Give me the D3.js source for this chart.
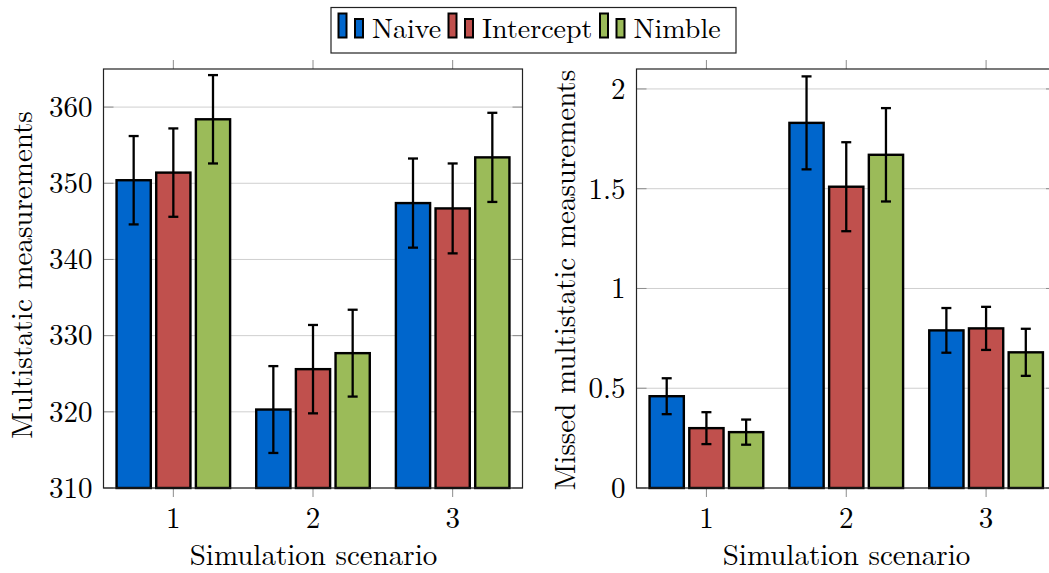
<!DOCTYPE html>
<html>
<head>
<meta charset="utf-8">
<script src="https://cdn.jsdelivr.net/npm/d3@7"></script>
<style>
  body { margin: 0; background: #fff; }
</style>
</head>
<body>
<svg id="chart" width="1049" height="573"></svg>
<script>
// Categories (simulation scenarios) and series names
const scenarios = [1, 2, 3];
const seriesNames = ["Naive", "Intercept", "Nimble"];
const seriesColors = ["#0066cc", "#c0504d", "#9bbb59"];

// Left panel: multistatic measurements (mean and half error)
const measNaive = [350.4, 320.3, 347.4];
const measIntercept = [351.4, 325.6, 346.7];
const measNimble = [358.4, 327.7, 353.4];
const measNaiveErr = [5.8, 5.7, 5.85];
const measInterceptErr = [5.8, 5.8, 5.9];
const measNimbleErr = [5.8, 5.7, 5.85];
const measTicks = [310, 320, 330, 340, 350, 360];

// Right panel: missed multistatic measurements
const missNaive = [0.46, 1.83, 0.79];
const missIntercept = [0.30, 1.51, 0.80];
const missNimble = [0.28, 1.67, 0.68];
const missNaiveErr = [0.09, 0.233, 0.112];
const missInterceptErr = [0.08, 0.223, 0.108];
const missNimbleErr = [0.063, 0.234, 0.118];
const missTicks = [0, 0.5, 1, 1.5, 2];

const FONT = "'Latin Modern Roman', 'Liberation Serif'";
const svg = d3.select('#chart');

/* Draws one grouped bar panel with error bars */
function drawPanel(box, values, errors, yDomain, yTicks, yLabel) {
    var g = svg.append('g');

    var x = d3.scaleLinear().domain([0.5, 3.5]).range([box.left, box.right]);
    var y = d3.scaleLinear().domain(yDomain).range([box.bottom, box.top]);

    // bar offsets and width in category units
    var offset = 0.284, barW = x(0.245) - x(0);

    // horizontal grid lines
    g.append('g').selectAll('line').data(yTicks).enter().append('line')
        .attr('x1', box.left).attr('x2', box.right)
        .attr('y1', d => y(d)).attr('y2', d => y(d))
        .attr('stroke', '#cfcfcf').attr('stroke-width', 1);

    // y ticks inside left and right
    [box.left, box.right].forEach(function(px, k) {
        g.append('g').selectAll('line').data(yTicks).enter().append('line')
            .attr('x1', px).attr('x2', k == 0 ? px + 10 : px - 10)
            .attr('y1', d => y(d)).attr('y2', d => y(d))
            .attr('stroke', '#8c8c8c').attr('stroke-width', 1);
    });

    // x ticks outside top and bottom
    g.append('g').selectAll('line').data(scenarios).enter().append('line')
        .attr('x1', d => x(d)).attr('x2', d => x(d))
        .attr('y1', box.bottom).attr('y2', box.bottom + 9)
        .attr('stroke', '#8c8c8c').attr('stroke-width', 1);
    g.append('g').selectAll('line').data(scenarios).enter().append('line')
        .attr('x1', d => x(d)).attr('x2', d => x(d))
        .attr('y1', box.top).attr('y2', box.top - 9)
        .attr('stroke', '#8c8c8c').attr('stroke-width', 1);

    // bars and error bars
    values.forEach(function(series, s) {
        var pts = scenarios.map((c, i) => ({ c: c, v: series[i], e: errors[s][i] }));
        var sg = g.append('g');
        sg.selectAll('rect').data(pts).enter().append('rect')
            .attr('x', d => x(d.c + (s - 1) * offset) - barW / 2)
            .attr('width', barW)
            .attr('y', d => y(d.v))
            .attr('height', d => y(yDomain[0]) - y(d.v))
            .attr('fill', seriesColors[s])
            .attr('stroke', '#000').attr('stroke-width', 2.4);

        var eg = sg.selectAll('g.err').data(pts).enter().append('g').attr('class', 'err')
            .attr('stroke', '#000').attr('stroke-width', 2.3);
        eg.append('line')
            .attr('x1', d => x(d.c + (s - 1) * offset)).attr('x2', d => x(d.c + (s - 1) * offset))
            .attr('y1', d => y(d.v + d.e)).attr('y2', d => y(d.v - d.e));
        eg.append('line')
            .attr('x1', d => x(d.c + (s - 1) * offset) - 5).attr('x2', d => x(d.c + (s - 1) * offset) + 5)
            .attr('y1', d => y(d.v + d.e)).attr('y2', d => y(d.v + d.e));
        eg.append('line')
            .attr('x1', d => x(d.c + (s - 1) * offset) - 5).attr('x2', d => x(d.c + (s - 1) * offset) + 5)
            .attr('y1', d => y(d.v - d.e)).attr('y2', d => y(d.v - d.e));
    });

    // frame
    g.append('rect')
        .attr('x', box.left).attr('y', box.top)
        .attr('width', box.right - box.left).attr('height', box.bottom - box.top)
        .attr('fill', 'none').attr('stroke', '#222').attr('stroke-width', 1.2);

    // tick labels
    g.append('g').selectAll('text').data(yTicks).enter().append('text')
        .attr('x', box.left - 11).attr('y', d => y(d))
        .attr('dy', '0.34em').attr('text-anchor', 'end')
        .style('font-family', FONT).style('font-size', '29px')
        .text(d => d3.format('~g')(d));
    g.append('g').selectAll('text').data(scenarios).enter().append('text')
        .attr('x', d => x(d)).attr('y', 528)
        .attr('text-anchor', 'middle')
        .style('font-family', FONT).style('font-size', '29px')
        .text(d => d);

    // axis labels
    g.append('text')
        .attr('x', box.left + 210)
        .attr('y', 565).attr('text-anchor', 'middle')
        .style('font-family', FONT).style('font-size', '29px')
        .text('Simulation scenario');
    g.append('text')
        .attr('transform', `translate(${box.labelX}, ${box.labelY}) rotate(-90)`)
        .attr('text-anchor', 'middle')
        .style('font-family', FONT).style('font-size', '29px')
        .text(yLabel);
}

drawPanel({ left: 103.5, right: 522.5, top: 69, bottom: 488, labelX: 32, labelY: 275 },
    [measNaive, measIntercept, measNimble],
    [measNaiveErr, measInterceptErr, measNimbleErr],
    [310, 365], measTicks, 'Multistatic measurements');

drawPanel({ left: 636.5, right: 1056, top: 69, bottom: 488, labelX: 575, labelY: 280 },
    [missNaive, missIntercept, missNimble],
    [missNaiveErr, missInterceptErr, missNimbleErr],
    [0, 2.1], missTicks, 'Missed multistatic measurements');

// legend
var legend = svg.append('g');
legend.append('rect')
    .attr('x', 331).attr('y', 7.5).attr('width', 405).attr('height', 45.5)
    .attr('fill', '#fff').attr('stroke', '#222').attr('stroke-width', 1.2);
var legendX = [338.5, 448.5, 600];
seriesNames.forEach(function(name, s) {
    var lx = legendX[s];
    legend.append('rect').attr('x', lx).attr('y', 13.5).attr('width', 8).attr('height', 24)
        .attr('fill', seriesColors[s]).attr('stroke', '#000').attr('stroke-width', 2);
    legend.append('rect').attr('x', lx + 16.5).attr('y', 19).attr('width', 8).attr('height', 18.5)
        .attr('fill', seriesColors[s]).attr('stroke', '#000').attr('stroke-width', 2);
    legend.append('text').attr('x', lx + 33.5).attr('y', 37.7)
        .style('font-family', FONT).style('font-size', '28px').text(name);
});
</script>
</body>
</html>
